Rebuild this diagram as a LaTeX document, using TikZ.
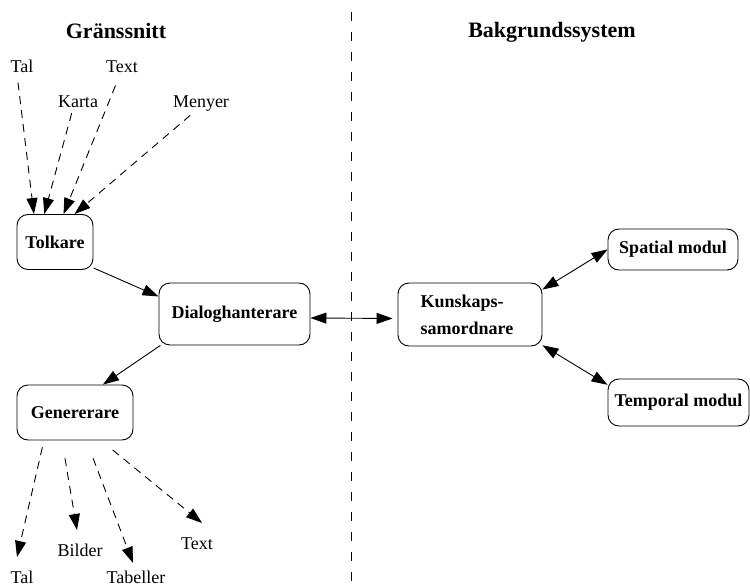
\documentclass[tikz,border=0pt]{standalone}
\usepackage{fontspec}
\setmainfont{Liberation Serif}
\usetikzlibrary{arrows.meta}
\begin{document}
\begin{tikzpicture}[x=1pt,y=-1pt,
  box/.style={draw,line width=0.9pt,rounded corners=11pt,font=\fontsize{18}{27}\selectfont\bfseries,inner sep=2pt,align=center},
  lbl/.style={font=\fontsize{18}{21}\selectfont,inner sep=1pt,anchor=base},
  head/.style={font=\fontsize{22}{26}\selectfont\bfseries,inner sep=1pt,anchor=base},
  tipA/.tip={Triangle[length=16pt,width=11pt]},
  arr/.style={line width=0.9pt,-tipA},
  darr/.style={line width=0.9pt,tipA-tipA},
  dasharr/.style={line width=0.9pt,-tipA,dash pattern=on 8pt off 6pt}]
\useasboundingbox (0,0) rectangle (750,586);
% headings
\node[head] (h1) at (116,39) {Gränssnitt};
\node[head] (h2) at (552,38) {Bakgrundssystem};
% divider
\coordinate (dtop) at (351,12);
\coordinate (dbot) at (351,586);
\draw[line width=0.9pt,dash pattern=on 9pt off 11pt] (dtop) -- (dbot);
% boxes
\node[box,minimum width=76pt,minimum height=55pt] (tolk) at (55,242) {Tolkare};
\node[box,minimum width=151pt,minimum height=62pt] (dial) at (234.5,314) {Dialoghanterare};
\node[box,minimum width=116pt,minimum height=55pt] (gen) at (75,412.5) {Genererare};
\node[box,minimum width=144pt,minimum height=63pt,align=left] (kunsk) at (470,314.5) {Kunskaps-\\samordnare\hspace*{6pt}};
\node[box,minimum width=130pt,minimum height=41pt] (spat) at (673,249.5) {Spatial modul};
\node[box,minimum width=141pt,minimum height=47pt] (temp) at (678.5,402.5) {Temporal modul};
% input labels
\node[lbl] (tal1) at (22,73) {Tal};
\node[lbl] (text1) at (122,73) {Text};
\node[lbl] (karta) at (78,107) {Karta};
\node[lbl] (menyer) at (201,107) {Menyer};
% output labels
\node[lbl] (tal2) at (22,583) {Tal};
\node[lbl] (bilder) at (80,556) {Bilder};
\node[lbl] (tab) at (136,583) {Tabeller};
\node[lbl] (text2) at (197,549) {Text};
% output tips
\coordinate (tTal) at (17,557);
\coordinate (tBild) at (77,530);
\coordinate (tTab) at (133,563);
\coordinate (tText) at (202,523);
% input arrows
\draw[dasharr,shorten <=8pt] ([xshift=-5pt]tal1.south) -- (tolk.127);
\draw[dasharr,shorten <=5pt] ([xshift=-5pt]karta.south) -- (tolk.111);
\draw[dasharr,shorten <=12pt] ([xshift=-2pt]text1.south) -- (tolk.73);
\draw[dasharr,shorten <=5pt] ([xshift=-7pt]menyer.south) -- (tolk.55);
% flow arrows
\draw[arr] (tolk.-34) -- (dial.167);
\draw[arr] (dial.-157) -- (gen.45);
\draw[darr,shorten >=5pt] ([yshift=-4pt]dial.east) -- ([yshift=-4pt]kunsk.west);
\draw[darr] (kunsk.19) -- (spat.west);
\draw[darr] (kunsk.-23) -- (temp.166);
% output arrows
\draw[dasharr,shorten <=7pt] (gen.-138) -- (tTal);
\draw[dasharr,shorten <=18pt] (gen.-115) -- (tBild);
\draw[dasharr,shorten <=19pt] (gen.-68) -- (tTab);
\draw[dasharr,shorten <=15pt] (gen.-47) -- (tText);
\end{tikzpicture}
\end{document}
